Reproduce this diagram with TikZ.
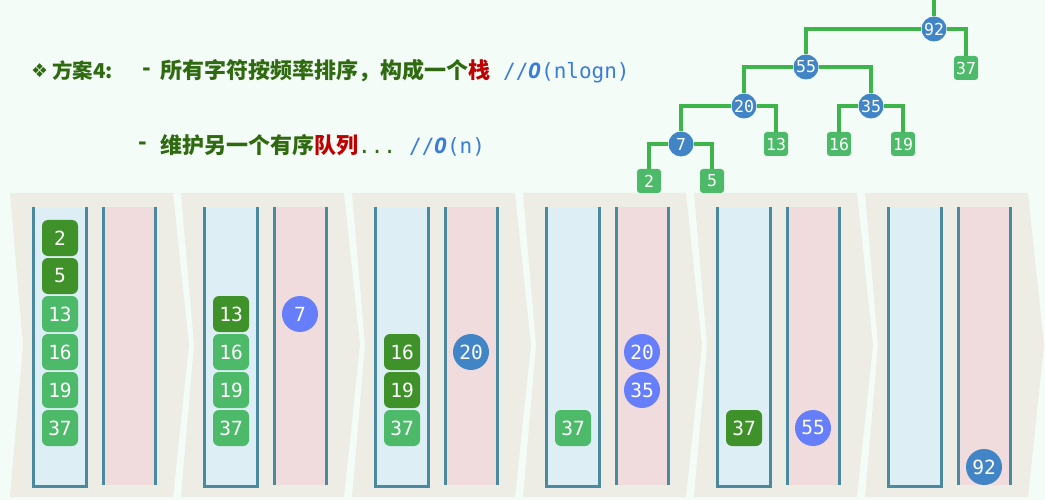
\documentclass[tikz,border=0pt]{standalone}
\usepackage{fontspec}
\usepackage{tikz}

\newfontfamily\cjk{Noto Sans CJK SC}
\newfontfamily\monof{DejaVu Sans Mono}
\newfontfamily\symf{DejaVu Sans}

\definecolor{bgmint}{HTML}{F3FCF7}
\definecolor{panelgray}{HTML}{EDEDE5}
\definecolor{stackfill}{HTML}{DDEEF5}
\definecolor{queuefill}{HTML}{F0DCDC}
\definecolor{tubeblue}{HTML}{4A8AA0}
\definecolor{darkgreen}{HTML}{3F9129}
\definecolor{lightgreen}{HTML}{4DBA6A}
\definecolor{edgegreen}{HTML}{3DB54A}
\definecolor{violet}{HTML}{667EF9}
\definecolor{steel}{HTML}{4285C7}
\definecolor{txtgreen}{HTML}{2F6A10}
\definecolor{txtred}{HTML}{C00000}
\definecolor{txtblue}{HTML}{3B7DD6}

\tikzset{
    tube/.style={draw=tubeblue, line width=3pt},
    cell/.style={rounded corners=6pt, minimum size=36pt, inner sep=0pt, text=white,
        font=\monof\fontsize{19.5}{19.5}\selectfont},
    darkbox/.style={cell, fill=darkgreen},
    lightbox/.style={cell, fill=lightgreen},
    violetop/.style={cell, circle, fill=violet},
    steelop/.style={cell, circle, fill=steel},
    treeleaf/.style={rounded corners=3pt, minimum size=24pt, inner sep=0pt, fill=lightgreen,
        text=white, font=\monof\fontsize{16.5}{16.5}\selectfont},
    treeop/.style={circle, minimum size=25pt, inner sep=0pt, fill=steel,
        text=white, font=\monof\fontsize{16.5}{16.5}\selectfont},
    treeedge/.style={draw=edgegreen, line width=3.5pt},
    title/.style={anchor=west, inner sep=0pt, text=txtgreen, font=\cjk\bfseries\fontsize{22}{22}\selectfont},
    dashmark/.style={title, font=\monof\bfseries\fontsize{21}{21}\selectfont}
}

\begin{document}
\begin{tikzpicture}[x=1pt, y=-1pt]
    \useasboundingbox[fill=bgmint] (0,0) rectangle (1045,500);

    % Шесть шагов: фон, стек и очередь
    \foreach \i in {0,...,5} {
        \pgfmathsetmacro{\xo}{10+171*\i}
        \fill[panelgray] (\xo,193) -- ++(163,0) -- ++(16,152) -- ++(-16,152)
            -- ++(-163,0) -- ++(13,-152) -- cycle;
        % стек
        \fill[stackfill] (\xo+23,207) rectangle (\xo+76,486);
        \draw[tube] (\xo+23,207) -- (\xo+23,486) -- (\xo+76,486) -- (\xo+76,207);
        % очередь
        \fill[queuefill] (\xo+93,207) rectangle (\xo+145,485);
        \draw[tube] (\xo+93,207) -- (\xo+93,485);
        \draw[tube] (\xo+145,207) -- (\xo+145,485);
    }

    % Элементы стека: шаг/ряд/вес/стиль
    \foreach \p/\r/\v/\s in {
        0/0/2/darkbox, 0/1/5/darkbox, 0/2/13/lightbox, 0/3/16/lightbox, 0/4/19/lightbox, 0/5/37/lightbox,
        1/2/13/darkbox, 1/3/16/lightbox, 1/4/19/lightbox, 1/5/37/lightbox,
        2/3/16/darkbox, 2/4/19/darkbox, 2/5/37/lightbox,
        3/5/37/lightbox,
        4/5/37/darkbox}
    {
        \node[\s] (s\p-\v) at (60+171*\p, 238+38*\r) {\v};
    }

    % Элементы очереди: шаг/y/вес/стиль
    \foreach \p/\y/\v/\s in {
        1/314/7/violetop, 2/352/20/steelop, 3/352/20/violetop, 3/390/35/violetop,
        4/428/55/violetop, 5/467/92/steelop}
    {
        \node[\s] (q\p-\v) at (129+171*\p, \y) {\v};
    }

    % Заголовок
    \node[anchor=west, inner sep=0pt, text=txtgreen, font=\symf\fontsize{19}{19}\selectfont] (bullet) at (31,71) {❖};
    \node[title, font=\cjk\bfseries\fontsize{20.5}{20.5}\selectfont] (plan) at (52,71) {方案4:};
    \node[dashmark] (dash1) at (140,72) {-};
    \node[title] (line1) at (160,71) {所有字符按频率排序，构成一个\textcolor{txtred}{栈}\hspace{13pt}{\monof\mdseries\fontsize{21}{21}\selectfont\color{txtblue}//\textbf{\textit{O}}(nlogn)}};
    \node[dashmark] (dash2) at (136,146) {-};
    \node[title] (line2) at (160,145) {维护另一个有序\textcolor{txtred}{队列}{\monof\mdseries\fontsize{21}{21}\selectfont...\hspace{13pt}\color{txtblue}//\textbf{\textit{O}}(n)}};

    % Дерево Хаффмана
    \coordinate (root) at (934,0);
    \node[treeop] (t92) at (934,29) {92};
    \node[treeop] (t55) at (806,67) {55};
    \node[treeleaf] (t37) at (966,68) {37};
    \node[treeop] (t20) at (744,106) {20};
    \node[treeop] (t35) at (871,106) {35};
    \node[treeop] (t7) at (681,144) {7};
    \node[treeleaf] (t13) at (776,144) {13};
    \node[treeleaf] (t16) at (839,144) {16};
    \node[treeleaf] (t19) at (903,144) {19};
    \node[treeleaf] (t2) at (649,181) {2};
    \node[treeleaf] (t5) at (712,181) {5};

    \draw[treeedge] (root) -- (t92);
    \draw[treeedge] (t92) -| (t55);
    \draw[treeedge] (t92) -| (t37);
    \draw[treeedge] (t55) -| (t20);
    \draw[treeedge] (t55) -| (t35);
    \draw[treeedge] (t20) -| (t7);
    \draw[treeedge] (t20) -| (t13);
    \draw[treeedge] (t35) -| (t16);
    \draw[treeedge] (t35) -| (t19);
    \draw[treeedge] (t7) -| (t2);
    \draw[treeedge] (t7) -| (t5);
\end{tikzpicture}
\end{document}
